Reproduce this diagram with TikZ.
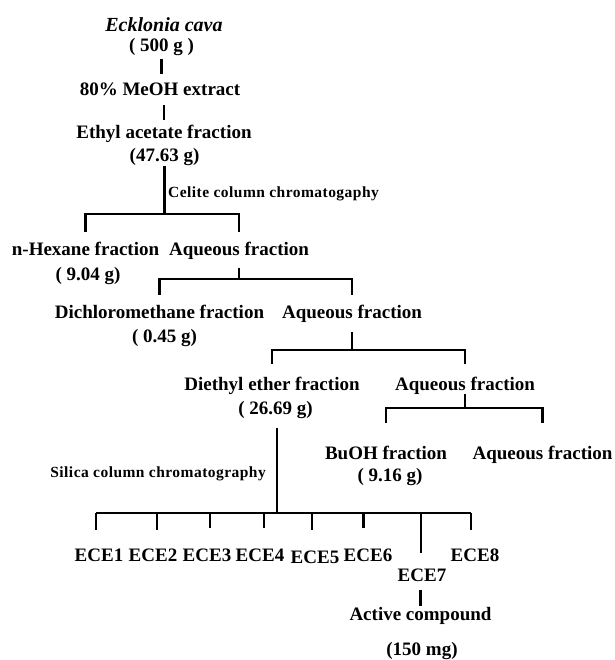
\documentclass[tikz,border=0pt]{standalone}
\usepackage{fontspec}
\setmainfont{Liberation Serif}
\newfontfamily\notefont{Liberation Serif}[LetterSpace=3]
\begin{document}
\begin{tikzpicture}[x=1pt, y=1pt,
	lbl/.style={anchor=base, inner sep=0pt, text height=13pt, text depth=4pt, font=\bfseries\fontsize{19}{22}\selectfont},
	note/.style={anchor=base west, inner sep=0pt, font=\notefont\bfseries\fontsize{15.5}{18}\selectfont},
	link/.style={line width=2.2pt}]
	\useasboundingbox (0,0) rectangle (614,-660);
	\node[lbl, font=\bfseries\itshape\fontsize{20}{24}\selectfont] (eck) at (164,-31.5) {Ecklonia cava};
	\node[lbl] (g500) at (161.5,-51.6) {( 500 g )};
	\node[lbl] (meoh) at (160,-96) {80\% MeOH extract};
	\node[lbl] (ethyl) at (164,-139) {Ethyl acetate fraction};
	\node[lbl] (g4763) at (164.5,-161.5) {(47.63 g)};
	\node[note] (celite) at (168,-197) {Celite column chromatogaphy};
	\node[lbl] (hexane) at (85.5,-255) {n-Hexane fraction};
	\node[lbl] (g904) at (88,-280) {( 9.04 g)};
	\node[lbl] (aq1) at (239,-255) {Aqueous fraction};
	\node[lbl] (dcm) at (159.5,-318.3) {Dichloromethane fraction};
	\node[lbl] (g045) at (164.5,-342) {( 0.45 g)};
	\node[lbl] (aq2) at (352,-318.3) {Aqueous fraction};
	\node[lbl] (dee) at (272,-390) {Diethyl ether fraction};
	\node[lbl] (g2669) at (275.5,-414) {( 26.69 g)};
	\node[lbl] (aq3) at (465,-390) {Aqueous fraction};
	\node[lbl] (buoh) at (386,-459) {BuOH fraction};
	\node[lbl] (g916) at (390,-481) {( 9.16 g)};
	\node[lbl] (aq4) at (542.5,-459) {Aqueous fraction};
	\node[note, anchor=base east] (silica) at (266,-477.3) {Silica column chromatography};
	\foreach \n/\x/\y in {1/99/561, 2/153/561, 3/207/561, 4/260/561, 5/315/563, 6/368/561, 7/422/581, 8/475/561}
		\node[lbl] (ece\n) at (\x,-\y) {ECE\n};
	\node[lbl] (active) at (420.5,-620) {Active compound};
	\node[lbl] (g150) at (422,-655.5) {(150 mg)};

	\coordinate (j1) at (164.5,-214.3);
	\coordinate (j2) at (239,-279.3);
	\coordinate (j3) at (352,-350);
	\coordinate (j4) at (465,-407.7);
	\coordinate (j5) at (277.3,-513.3);
	\foreach \n/\x in {1/96, 2/157, 3/210, 4/264, 5/312, 6/363.5, 7/421, 8/471}
		\coordinate (t\n) at (\x,-513.3);

	\draw[link, shorten <=3.7pt, shorten >=9pt] (g500.south) -- (g500.south |- meoh.north);
	\draw[link, shorten <=5pt, shorten >=6pt] (meoh.south -| ethyl.north) -- (ethyl.north);
	\draw[link] (g4763.south) -- (j1);
	\draw[link, shorten <=9.7pt, shorten >=9.7pt] (hexane.north) |- (j1) -| (aq1.north);
	\draw[link, shorten <=8.3pt] (aq1.south) -- (j2);
	\draw[link, shorten <=10.3pt, shorten >=10.3pt] (dcm.north) |- (j2) -| (aq2.north);
	\draw[link, shorten <=9.4pt] (aq2.south) -- (j3);
	\draw[link, shorten <=13pt, shorten >=13pt] (dee.north) |- (j3) -| (aq3.north);
	\draw[link] (aq3.south) -- (j4);
	\draw[link, shorten <=22.7pt, shorten >=22.7pt] (buoh.north) |- (j4) -| (aq4.north);
	\draw[link, shorten <=9.3pt] (g2669.south -| j5) -- (j5);
	\draw[link] (t1) -- (t8);
	\foreach \n/\s in {1/18, 2/18, 3/20, 4/20, 5/20, 6/20, 7/15.3, 8/18}
		\draw[link, shorten >=\s pt] (t\n) -- (t\n |- ece\n.north);
	\draw[link, shorten <=5pt, shorten >=1pt] (active.north |- ece7.south) -- (active.north);
\end{tikzpicture}
\end{document}
